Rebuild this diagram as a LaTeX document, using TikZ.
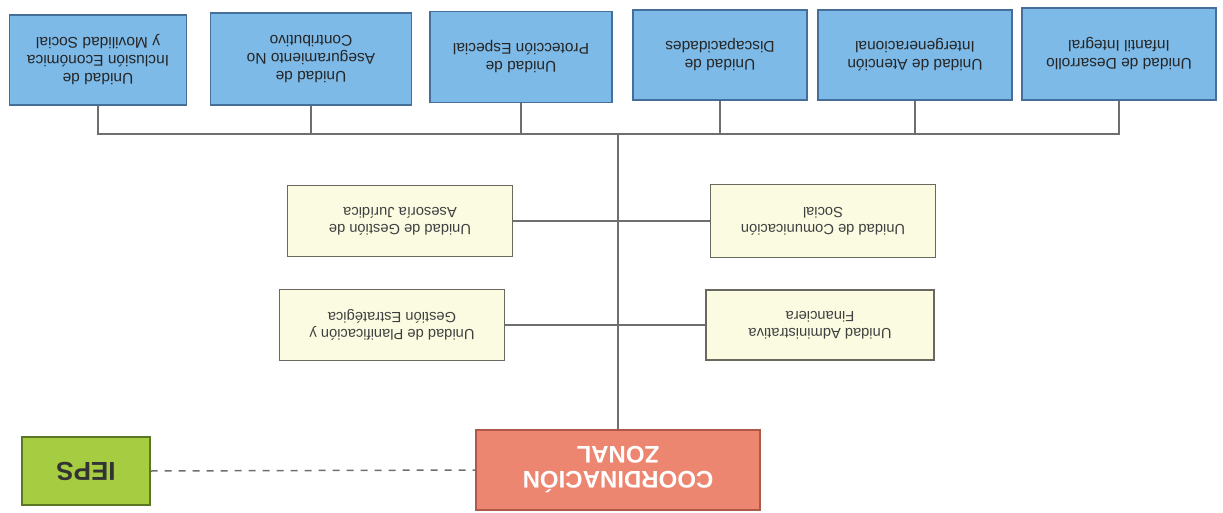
\documentclass[tikz,border=0pt]{standalone}
\usepackage{fontspec}
\setmainfont{Liberation Sans}
\definecolor{bfill}{RGB}{125,186,232}
\definecolor{bdraw}{RGB}{70,110,155}
\definecolor{yfill}{RGB}{251,251,226}
\definecolor{ydraw}{RGB}{105,105,95}
\definecolor{rfill}{RGB}{236,134,112}
\definecolor{rdraw}{RGB}{175,90,72}
\definecolor{gfill}{RGB}{166,205,66}
\definecolor{gdraw}{RGB}{90,120,35}
\definecolor{lcol}{RGB}{110,110,110}
\tikzset{
  box/.style={rectangle, rotate=180, inner sep=2pt, align=center, line width=1.4pt},
  bluebox/.style={box, fill=bfill, draw=bdraw, text=black!85,
    font=\fontsize{15.5}{18}\selectfont},
  yelbox/.style={box, fill=yfill, draw=ydraw, text=black!75,
    font=\fontsize{14.7}{17}\selectfont},
  redbox/.style={box, fill=rfill, draw=rdraw, text=white,
    font=\fontsize{24}{25}\selectfont\bfseries},
  grnbox/.style={box, fill=gfill, draw=gdraw, text=black!80,
    font=\fontsize{26}{28}\selectfont\bfseries},
  conn/.style={draw=lcol, line width=1.8pt},
}
\begin{document}
\begin{tikzpicture}[x=1pt,y=-1pt]
\useasboundingbox (0,0) rectangle (1223,513);
% blue boxes
\node[bluebox, minimum width=177pt, minimum height=90pt] (b1) at (98,60) {Unidad de\\Inclusión Económica\\y Movilidad Social};
\node[bluebox, minimum width=201pt, minimum height=92pt] (b2) at (311,59) {Unidad de\\Aseguramiento No\\Contributivo};
\node[bluebox, minimum width=182pt, minimum height=91pt] (b3) at (521,57) {Unidad de\\Protección Especial};
\node[bluebox, minimum width=174pt, minimum height=90pt] (b4) at (720,55) {Unidad de\\Discapacidades};
\node[bluebox, minimum width=194pt, minimum height=90pt] (b5) at (915,55) {Unidad de Atención\\Intergeneracional};
\node[bluebox, minimum width=194pt, minimum height=92pt] (b6) at (1119,54) {Unidad de Desarrollo\\Infantil Integral};
% yellow boxes
\node[yelbox, minimum width=225pt, minimum height=71pt] (yul) at (400,221) {Unidad de Gestión de\\Asesoría Jurídica};
\node[yelbox, minimum width=225pt, minimum height=73pt] (yur) at (823,221) {Unidad de Comunicación\\Social};
\node[yelbox, minimum width=225pt, minimum height=71pt] (yll) at (392,325) {Unidad de Planificación y\\Gestión Estratégica};
\node[yelbox, minimum width=228pt, minimum height=70pt] (ylr) at (820,325) {Unidad Administrativa\\Financiera};
% bottom boxes
\node[redbox, minimum width=284pt, minimum height=80pt] (red) at (618,470) {COORDINACIÓN\\ZONAL};
\node[grnbox, minimum width=128pt, minimum height=68pt] (grn) at (86,471) {IEPS};
% connectors
\coordinate (bus) at (617,134);
\draw[conn] (b1.north) -- (b1.north |- bus) -- (b6.north |- bus) -- (b6.north);
\foreach \n in {b2,b3,b4,b5} \draw[conn] (\n.north) -- (\n.north |- bus);
\draw[conn] (red.south) -- (red.south |- bus);
\draw[conn] (yul.west) -- (yur.east);
\draw[conn] (yll.west) -- (ylr.east);
\draw[conn, dashed, dash pattern=on 7pt off 7pt, line width=1.5pt] (grn.west) -- (red.east);
\end{tikzpicture}
\end{document}
